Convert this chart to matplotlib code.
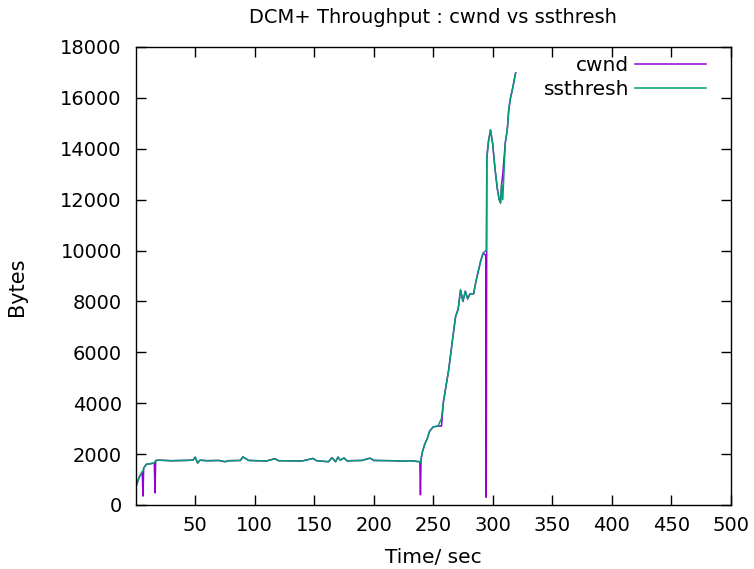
import matplotlib
matplotlib.use("Agg")
import matplotlib.pyplot as plt
from matplotlib import font_manager

# time samples (sec)
t = [0, 3, 5.5, 6.1, 6.7, 9, 12, 15.6, 16.2, 16.8, 20, 30, 40, 48, 50, 52, 54, 60,
     70, 75, 78, 88, 90, 95, 110, 117, 120, 140, 149, 152, 162, 165, 168, 170, 172,
     175, 178, 180, 190, 197, 200, 215, 225, 230, 238.8, 239.3, 239.8, 241, 243, 245,
     247, 250, 254, 257, 258.6, 263, 266, 268.8, 271, 273, 275, 277, 279, 281, 284,
     286, 288, 290, 292, 294.3, 294.6, 295.1, 296.5, 298.2, 300, 302, 304, 305.5,
     306.6, 307.5, 308.5, 310.6, 311.5, 312.5, 313.5, 315, 316.5, 319.3]

# ssthresh (bytes)
ssthresh = [700, 1100, 1300, 1350, 1450, 1600, 1620, 1650, 1700, 1750, 1760, 1740,
            1750, 1760, 1880, 1650, 1760, 1740, 1750, 1700, 1740, 1750, 1890, 1750,
            1730, 1820, 1740, 1730, 1830, 1740, 1700, 1860, 1700, 1880, 1760, 1850,
            1720, 1740, 1750, 1840, 1750, 1740, 1720, 1740, 1700, 1650, 1800, 2100,
            2400, 2600, 2900, 3070, 3100, 3400, 4050, 5300, 6400, 7400, 7700, 8450,
            8000, 8400, 8100, 8300, 8300, 8800, 9200, 9600, 9900, 10000, 10000, 13640,
            14300, 14740, 14200, 13200, 12400, 12000, 11870, 12600, 12000, 14230,
            14500, 14860, 15530, 16000, 16310, 16980]

# cwnd (bytes): follows ssthresh except for the drops
cwnd = [700, 1100, 1300, 350, 1450, 1600, 1620, 1650, 470, 1750, 1760, 1740,
        1750, 1760, 1880, 1650, 1760, 1740, 1750, 1700, 1740, 1750, 1890, 1750,
        1730, 1820, 1740, 1730, 1830, 1740, 1700, 1860, 1700, 1880, 1760, 1850,
        1720, 1740, 1750, 1840, 1750, 1740, 1720, 1740, 1700, 400, 1800, 2100,
        2400, 2600, 2900, 3070, 3100, 3100, 4050, 5300, 6400, 7400, 7700, 8450,
        8000, 8400, 8100, 8300, 8300, 8800, 9200, 9600, 9900, 9800, 300, 13640,
        14300, 14740, 14200, 13200, 12400, 12000, 11870, 12600, 13000, 14230,
        14500, 14860, 15530, 16000, 16310, 16980]

xticks = [50, 100, 150, 200, 250, 300, 350, 400, 450, 500]
yticks = [0, 2000, 4000, 6000, 8000, 10000, 12000, 14000, 16000, 18000]

plt.rcParams['font.family'] = ['DejaVu Sans']
names = {f.name for f in font_manager.fontManager.ttflist}
narrow = 'Liberation Sans Narrow' if 'Liberation Sans Narrow' in names else 'DejaVu Sans'

fig = plt.figure(figsize=(7.54, 5.69), dpi=100)
ax = fig.add_axes([0.180, 0.1125, 0.789, 0.805])

ax.plot(t, cwnd, color='#9400d3', lw=1.1, label='cwnd')
ax.plot(t, ssthresh, color='#009e73', lw=1.1, label='ssthresh')

ax.set_xlim(0, 500)
ax.set_ylim(0, 18000)
ax.set_xticks(xticks)
ax.set_yticks(yticks)
ax.tick_params(direction='in', length=7, width=1, top=True, right=True,
               labelsize=14, colors='black')
ax.tick_params(axis='y', pad=10)
ax.tick_params(axis='x', pad=8)
for s in ax.spines.values():
    s.set_linewidth(1)

ax.set_title('DCM+ Throughput : cwnd vs ssthresh', fontsize=14, pad=17)
ax.set_xlabel('Time/ sec', fontsize=14.5, labelpad=9)
ax.set_ylabel('Bytes', fontsize=15, family=narrow)
ax.yaxis.set_label_coords(-0.183, 0.476)

leg = ax.legend(loc='upper right', bbox_to_anchor=(0.972, 0.998), frameon=False,
                markerfirst=False, fontsize=14.5, handlelength=3.5,
                handletextpad=0.3, borderaxespad=0, labelspacing=0.25)
for txt in leg.get_texts():
    txt.set_ha('right')

fig.savefig('out.png', dpi=100)
